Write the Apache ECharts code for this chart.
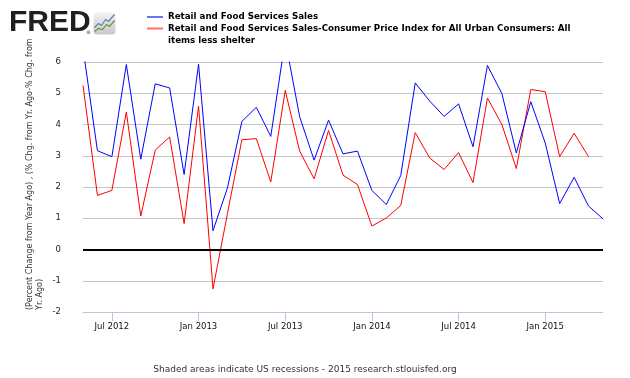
<!DOCTYPE html>
<html><head><meta charset="utf-8">
<script src="https://cdn.jsdelivr.net/npm/echarts@6/dist/echarts.min.js"></script>
<style>html,body{margin:0;padding:0;background:#fff}#c{width:630px;height:378px}</style>
</head><body><div id="c"></div>
<script>
// Monthly observations, May 2012 – May 2015
const months = [
  '2012-05','2012-06','2012-07','2012-08','2012-09','2012-10','2012-11','2012-12',
  '2013-01','2013-02','2013-03','2013-04','2013-05','2013-06','2013-07','2013-08','2013-09','2013-10','2013-11','2013-12',
  '2014-01','2014-02','2014-03','2014-04','2014-05','2014-06','2014-07','2014-08','2014-09','2014-10','2014-11','2014-12',
  '2015-01','2015-02','2015-03','2015-04','2015-05'
];
const salesName = 'Retail and Food Services Sales';
const realName = 'Retail and Food Services Sales-Consumer Price Index for All Urban Consumers: All items less shelter';
// Percent change from year ago
const sales = [
  6.45, 3.16, 2.97, 5.92, 2.89, 5.30, 5.17, 2.40,
  5.93, 0.60, 1.97, 4.10, 4.55, 3.62, 6.70, 4.25, 2.86, 4.14, 3.06, 3.15,
  1.89, 1.44, 2.37, 5.33, 4.75, 4.26, 4.66, 3.29, 5.89, 4.99, 3.09, 4.73,
  3.41, 1.47, 2.31, 1.39, 0.98
];
const salesLessCpi = [
  5.25, 1.73, 1.89, 4.40, 1.07, 3.18, 3.60, 0.83,
  4.59, -1.26, 1.15, 3.51, 3.55, 2.16, 5.09, 3.15, 2.26, 3.81, 2.38, 2.08,
  0.75, 1.01, 1.41, 3.74, 2.93, 2.56, 3.10, 2.14, 4.85, 4.00, 2.59, 5.12,
  5.05, 2.97, 3.72, 2.97, null
];
const yMin = -2, yMax = 6, yStep = 1;
const monthNames = ['Jan','Feb','Mar','Apr','May','Jun','Jul','Aug','Sep','Oct','Nov','Dec'];
const isHalfYear = (i, v) => v.endsWith('-01') || v.endsWith('-07');
const fmtMonth = v => { const p = v.split('-'); return monthNames[+p[1]-1] + ' ' + p[0]; };

const FONT = 'DejaVu Sans';
const chart = echarts.init(document.getElementById('c'), null, {renderer:'canvas'});
chart.setOption({
  animation: false,
  backgroundColor: '#fff',
  grid: {left: 83, right: 27, top: 62, bottom: 66, containLabel: false},
  legend: [
    {
      data: [{name: salesName, itemStyle: {color: '#6f6fff'}}],
      orient: 'vertical', left: 147, top: 11, padding: 0,
      icon: 'rect', itemWidth: 16, itemHeight: 2, selectedMode: false,
      textStyle: {fontFamily: FONT, fontWeight: 'bold', fontSize: 8.7, color: '#000', lineHeight: 12}
    },
    {
      data: [{name: realName, itemStyle: {color: '#ff6f6f'}}],
      orient: 'vertical', left: 147, top: 10.5, padding: 0,
      icon: 'rect', itemWidth: 16, itemHeight: 2, selectedMode: false,
      formatter: () => '\nRetail and Food Services Sales-Consumer Price Index for All Urban Consumers: All\nitems less shelter',
      textStyle: {fontFamily: FONT, fontWeight: 'bold', fontSize: 8.7, color: '#000', lineHeight: 12}
    }
  ],
  xAxis: {
    type: 'category', data: months, boundaryGap: false,
    axisLine: {onZero: false, lineStyle: {color: '#b8c8dc', width: 1}},
    axisTick: {interval: isHalfYear, length: 9, lineStyle: {color: '#b8c8dc'}},
    axisLabel: {interval: isHalfYear, formatter: fmtMonth, margin: 10,
      fontFamily: FONT, fontSize: 8.5, color: '#111'},
    splitLine: {show: false}
  },
  yAxis: {
    type: 'value', min: yMin, max: yMax, interval: yStep,
    axisLine: {show: false}, axisTick: {show: false},
    axisLabel: {margin: 22, fontFamily: FONT, fontSize: 8.5, color: '#222'},
    splitLine: {lineStyle: {color: '#c4c4c4', width: 1}}
  },
  series: [
    {
      name: salesName, type: 'line', data: sales, symbol: 'none', clip: true,
      lineStyle: {color: '#0000ff', width: 1}, itemStyle: {color: '#0000ff'},
      markLine: {silent: true, symbol: 'none', label: {show: false},
        lineStyle: {color: '#000', width: 2, type: 'solid'}, data: [{yAxis: 0}]},
      z: 3
    },
    {
      name: realName, type: 'line', data: salesLessCpi, symbol: 'none', clip: true,
      lineStyle: {color: '#ff0000', width: 1}, itemStyle: {color: '#ff0000'}, z: 2
    }
  ],
  graphic: [
    {type: 'text', left: 9, top: 8, style: {text: 'FRED', fontFamily: 'Liberation Sans', fontWeight: 'bold', fontSize: 30, fill: '#231f20'}},
    {type: 'text', left: 86, top: 30, style: {text: '®', fontFamily: FONT, fontSize: 5, fill: '#231f20'}},
    {type: 'group', left: 92, top: 12, children: [
      {type: 'rect', shape: {x: 0, y: 0, width: 22, height: 22, r: 3},
        style: {fill: new echarts.graphic.LinearGradient(0,0,0,1,[{offset:0,color:'#f2f2f2'},{offset:1,color:'#c8c8c8'}])}},
      {type: 'polyline', shape: {points: [[1,15],[5,11],[8,13],[12,7],[15,9],[21,2]]}, style: {stroke: '#5b7fc0', lineWidth: 1.2, fill: null}},
      {type: 'polyline', shape: {points: [[1,19],[5,16],[9,17],[13,12],[16,14],[21,8]]}, style: {stroke: '#5a9a3a', lineWidth: 1.2, fill: null}}
    ]},
    {type: 'text', x: 25, y: 310, rotation: Math.PI / 2,
      style: {text: '(Percent Change from Year Ago) , (% Chg. from Yr. Ago-% Chg. from\nYr. Ago)',
        fontFamily: FONT, fontSize: 8, lineHeight: 10, fill: '#333', align: 'left', verticalAlign: 'top'}},
    {type: 'text', x: 305, y: 370,
      style: {text: 'Shaded areas indicate US recessions - 2015 research.stlouisfed.org',
        fontFamily: FONT, fontSize: 9, fill: '#333', align: 'center', verticalAlign: 'middle'}}
  ]
});
</script>
</body></html>
